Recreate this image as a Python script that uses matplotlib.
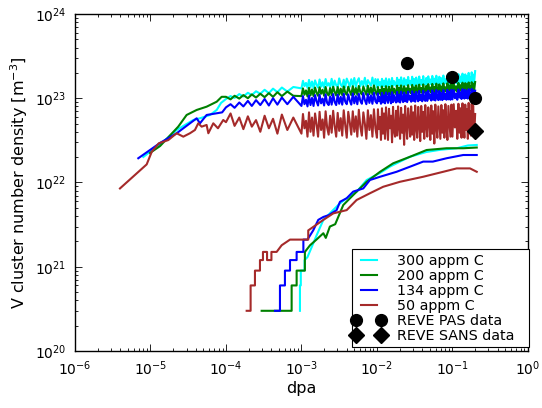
import numpy as np
import matplotlib
matplotlib.use("Agg")
import matplotlib.pyplot as plt
from matplotlib.legend_handler import HandlerLine2D

# ---------------- data ----------------
# early (smooth) part of the high-density curves
cyan_early_x = [8.03e-6, 1.56e-5, 2.22e-5, 3.69e-5, 4.66e-5, 6.14e-5, 7.54e-5, 8.6e-5]
cyan_early_y = [2.01e22, 3.19e22, 4.2e22, 5.52e22, 5.83e22, 6.33e22, 7.26e22, 8.8e22]
green_early_x = [9.84e-6, 1.34e-5, 2.33e-5, 3.01e-5, 4.09e-5, 5.54e-5, 7.54e-5, 8.77e-5]
green_early_y = [2.24e22, 2.71e22, 4.6e22, 6.33e22, 7.26e22, 7.94e22, 9.1e22, 10.4e22]
blue_early_x = [6.89e-6, 1.34e-5, 2.22e-5, 3.33e-5, 4.09e-5, 4.52e-5, 5.54e-5, 7.54e-5, 8.9e-5]
blue_early_y = [1.94e22, 2.95e22, 3.84e22, 5.04e22, 5.78e22, 5.04e22, 6.33e22, 6.63e22, 6.8e22]
brown_early_x = [3.94e-6, 8.9e-6, 1.04e-5, 1.29e-5, 1.72e-5, 2.22e-5, 2.72e-5, 3.33e-5,
                 3.88e-5, 4.29e-5, 4.76e-5, 5.54e-5, 5.84e-5, 6.79e-5, 7.83e-5, 9.2e-5]
brown_early_y = [8.5e21, 1.64e22, 2.32e22, 2.92e22, 3.19e22, 3.84e22, 3.5e22, 3.84e22,
                 4.2e22, 5.04e22, 4.6e22, 4.82e22, 3.84e22, 5.04e22, 4.4e22, 5.52e22]

# shared dpa output points of the noisy part, four stretches
dpa_a_e4 = [1.0, 1.15, 1.3, 1.5, 1.7, 1.95, 2.2, 2.5, 2.85, 3.25,
            3.7, 4.2, 4.8, 5.5, 6.5, 7.8]                                   # x 1e-4
dpa_b_e3 = [1.000, 1.047, 1.096, 1.148, 1.202, 1.259, 1.318, 1.380, 1.445, 1.514,
            1.585, 1.660, 1.738, 1.820, 1.905, 1.995, 2.089, 2.188, 2.291, 2.399,
            2.512, 2.630, 2.754, 2.884, 3.020, 3.162, 3.311, 3.467, 3.631, 3.802,
            3.981, 4.169, 4.365, 4.571, 4.786, 5.012, 5.248, 5.495, 5.754, 6.026,
            6.310, 6.607, 6.918, 7.244, 7.586, 7.943, 8.318, 8.710, 9.120, 9.550]  # x 1e-3
dpa_c_e2 = [1.000, 1.031, 1.063, 1.096, 1.131, 1.166, 1.202, 1.240, 1.279, 1.318,
            1.359, 1.402, 1.445, 1.490, 1.537, 1.585, 1.634, 1.685, 1.738, 1.792,
            1.848, 1.905, 1.965, 2.026, 2.089, 2.154, 2.221, 2.291, 2.362, 2.436,
            2.512, 2.590, 2.671, 2.754, 2.840, 2.929, 3.020, 3.114, 3.211, 3.311,
            3.415, 3.521, 3.631, 3.744, 3.861, 3.981, 4.105, 4.233, 4.365, 4.501,
            4.642, 4.786, 4.936, 5.090, 5.248, 5.412, 5.581, 5.754, 5.934, 6.119,
            6.310, 6.506, 6.709, 6.918, 7.134, 7.356, 7.586, 7.822, 8.066, 8.318,
            8.577, 8.845, 9.120, 9.405, 9.698]                                 # x 1e-2
dpa_d = [0.100, 0.104, 0.108, 0.112, 0.116, 0.120, 0.124, 0.128, 0.132, 0.136,
         0.140, 0.144, 0.148, 0.152, 0.156, 0.160, 0.164, 0.168, 0.172, 0.176,
         0.180, 0.184, 0.188, 0.194, 0.200]

# noisy densities, in units of 1e22 m^-3 (stretches a, b, c, d)
cyan_a = [9.8, 10.6, 10.1, 11.2, 10.5, 11.6, 10.9, 12.1, 11.3, 12.6, 11.5, 13.0, 11.8, 13.4, 12.0, 13.6]
cyan_b = [13.1, 16.1, 13.9, 15.2, 13.3, 16.5, 13.5, 15.8, 13.2, 16.3,
          14.4, 13.4, 16.7, 13.7, 15.5, 13.3, 16.9, 14.1, 15.1, 13.5,
          17.0, 13.4, 16.2, 14.3, 13.6, 17.2, 14.5, 13.8, 16.6, 13.5,
          17.1, 15.4, 13.7, 16.8, 14.0, 17.4, 13.6, 15.9, 17.3, 13.9,
          16.0, 14.2, 17.5, 13.8, 16.4, 15.1, 14.1, 17.6, 14.0, 16.9]
cyan_c = [13.6, 16.8, 14.2, 15.5, 13.7, 17.0, 14.0, 16.2, 13.8, 17.2,
          14.5, 13.9, 16.9, 15.0, 13.8, 17.4, 14.1, 16.0, 14.6, 13.9,
          17.5, 14.3, 16.6, 14.0, 17.7, 15.2, 14.1, 17.3, 14.4, 16.4,
          14.2, 17.9, 14.8, 16.1, 14.3, 18.0, 14.5, 16.9, 14.2, 17.6,
          15.4, 14.4, 18.1, 14.7, 16.5, 14.3, 18.3, 15.0, 14.6, 17.4,
          14.5, 18.2, 15.3, 16.7, 14.6, 18.4, 14.8, 17.1, 14.7, 18.5,
          15.6, 14.8, 18.0, 14.9, 17.3, 14.7, 18.6, 15.2, 16.8, 14.9,
          18.7, 15.0, 17.5, 14.8, 18.8]
cyan_d = [15.0, 19.0, 15.3, 17.6, 14.9, 19.3, 15.5, 18.1, 15.1, 19.6,
          16.0, 15.2, 19.2, 15.6, 18.4, 15.3, 20.0, 15.8, 17.9, 15.4,
          20.3, 15.7, 19.1, 15.5, 21.0]

green_a = [10.4, 9.7, 10.7, 9.9, 10.9, 10.0, 11.1, 10.2, 11.3, 10.3, 11.5, 10.4, 11.8, 10.6, 12.0, 10.7]
green_b = [10.6, 13.1, 11.0, 12.4, 10.5, 13.3, 10.8, 12.7, 10.6, 13.4,
           11.6, 10.7, 13.5, 11.3, 12.6, 10.7, 13.6, 11.4, 10.8, 13.2,
           10.9, 13.7, 11.9, 10.8, 13.6, 11.0, 13.0, 10.9, 13.8, 11.7,
           11.0, 13.7, 12.1, 10.9, 13.9, 11.1, 13.2, 11.0, 14.0, 11.8,
           11.1, 13.8, 12.2, 11.0, 14.1, 11.2, 13.4, 11.1, 14.2, 11.9]
green_c = [11.0, 13.6, 11.4, 12.5, 10.9, 13.8, 11.2, 12.9, 11.0, 13.9,
           11.7, 11.1, 13.7, 12.0, 11.0, 14.0, 11.3, 13.0, 11.8, 11.2,
           14.1, 11.4, 13.3, 11.2, 14.2, 12.1, 11.3, 13.9, 11.5, 13.1,
           11.3, 14.3, 11.9, 12.8, 11.4, 14.4, 11.6, 13.5, 11.4, 14.2,
           12.3, 11.5, 14.5, 11.8, 13.2, 11.5, 14.6, 12.0, 11.6, 14.0,
           11.6, 14.7, 12.2, 13.4, 11.7, 14.8, 11.9, 13.7, 11.7, 14.9,
           12.5, 11.8, 14.6, 11.9, 13.8, 11.8, 15.0, 12.1, 13.5, 11.9,
           15.1, 12.0, 14.2, 11.9, 15.2]
green_d = [12.0, 15.0, 12.3, 13.9, 11.9, 15.2, 12.5, 14.3, 12.1, 15.3,
           12.8, 12.2, 15.1, 12.4, 14.6, 12.2, 15.4, 12.7, 14.0, 12.3,
           15.5, 12.6, 14.9, 12.4, 15.6]

blue_a = [7.8, 8.5, 7.7, 8.9, 8.0, 9.3, 8.1, 9.5, 8.3, 9.8, 8.2, 10.0, 8.4, 10.2, 8.5, 10.4]
blue_b = [8.1, 10.6, 8.5, 9.6, 8.0, 10.8, 8.3, 10.1, 8.1, 10.9,
          9.2, 8.2, 11.0, 8.7, 9.9, 8.2, 11.1, 8.8, 8.3, 10.5,
          8.4, 11.2, 9.0, 8.3, 11.0, 8.6, 10.4, 8.4, 11.3, 9.1,
          8.5, 11.1, 9.4, 8.4, 11.4, 8.7, 10.6, 8.5, 11.3, 9.3,
          8.6, 11.5, 9.5, 8.5, 11.2, 8.8, 10.8, 8.6, 11.6, 9.2]
blue_c = [8.7, 11.4, 9.2, 10.3, 8.6, 11.6, 8.9, 10.8, 8.7, 11.7,
          9.6, 8.8, 11.5, 9.9, 8.7, 11.8, 9.0, 10.9, 9.5, 8.9,
          11.9, 9.1, 11.0, 8.9, 12.0, 9.8, 9.0, 11.7, 9.2, 10.9,
          9.0, 12.0, 9.6, 10.6, 9.1, 12.1, 9.3, 11.2, 9.1, 11.9,
          10.0, 9.2, 12.2, 9.5, 11.0, 9.2, 12.3, 9.7, 9.3, 11.8,
          9.3, 12.3, 9.9, 11.1, 9.4, 12.4, 9.6, 11.5, 9.4, 12.5,
          10.2, 9.5, 12.2, 9.6, 11.5, 9.5, 12.5, 9.8, 11.3, 9.6,
          12.6, 9.7, 11.9, 9.6, 12.6]
blue_d = [9.7, 12.5, 10.0, 11.4, 9.6, 12.7, 10.2, 11.8, 9.8, 12.8,
          10.5, 9.9, 12.6, 10.1, 12.0, 9.9, 12.8, 10.4, 11.6, 10.0,
          12.9, 10.3, 12.4, 10.1, 12.3]

brown_a = [5.2, 6.6, 4.7, 5.9, 4.3, 6.1, 4.6, 5.5, 4.0, 6.2, 4.4, 5.7, 3.8, 6.4, 4.2, 5.9]
brown_b = [3.8, 6.5, 4.4, 5.4, 3.5, 6.8, 4.0, 5.9, 3.6, 6.6,
           4.9, 3.5, 6.9, 4.2, 5.6, 3.4, 7.0, 4.5, 3.7, 6.2,
           3.9, 7.1, 4.7, 3.5, 6.7, 4.1, 5.8, 3.6, 7.2, 4.8,
           3.4, 6.9, 5.2, 3.7, 7.0, 4.0, 6.1, 3.5, 7.3, 4.6,
           3.6, 6.8, 5.0, 3.3, 7.2, 4.2, 6.3, 3.5, 7.4, 4.4]
brown_c = [3.4, 7.4, 4.3, 6.0, 3.2, 7.6, 3.8, 6.6, 3.3, 7.8,
           5.0, 3.2, 7.5, 4.4, 6.2, 3.0, 7.9, 4.1, 3.5, 7.1,
           3.6, 8.0, 4.6, 3.3, 7.7, 3.9, 6.4, 2.8, 8.1, 4.8,
           3.3, 7.6, 5.4, 3.5, 8.0, 3.7, 6.8, 3.2, 8.2, 4.5,
           3.4, 7.9, 5.1, 3.1, 8.1, 4.0, 6.9, 3.3, 8.3, 4.7,
           3.5, 7.8, 5.5, 3.2, 8.2, 3.8, 7.0, 2.9, 8.4, 4.6,
           3.4, 8.0, 5.2, 3.3, 8.3, 3.9, 7.2, 3.4, 8.5, 4.9,
           3.2, 8.1, 5.3, 3.5, 8.4]
brown_d = [3.5, 8.5, 4.5, 7.1, 3.3, 8.6, 3.9, 7.6, 3.4, 8.7,
           5.0, 3.4, 8.4, 4.2, 7.4, 3.3, 8.8, 4.4, 7.0, 3.6,
           8.6, 3.8, 8.2, 3.5, 6.5]

# low-density curves
cyan_lo_x = [9.55e-4, 9.55e-4, 9.8e-4, 9.8e-4, 1.1e-3, 1.1e-3, 1.2e-3, 1.4e-3, 1.6e-3,
             1.95e-3, 2.5e-3, 3.2e-3, 3.97e-3, 5.4e-3, 7.31e-3, 1.1e-2, 1.5e-2, 2.02e-2,
             2.74e-2, 4.5e-2, 7.0e-2, 0.114, 0.16, 0.21]
cyan_lo_y = [3e20, 6e20, 6e20, 9e20, 9e20, 1.2e21, 1.3e21, 1.8e21, 2.4e21,
             3.6e21, 4.5e21, 5.6e21, 6.5e21, 7.8e21, 1.07e22, 1.3e22, 1.55e22, 1.77e22,
             2.02e22, 2.3e22, 2.45e22, 2.55e22, 2.75e22, 2.79e22]
green_lo_x = [2.97e-4, 7.41e-4, 7.41e-4, 8.63e-4, 8.63e-4, 1.11e-3, 1.11e-3, 1.3e-3, 1.58e-3,
              1.95e-3, 2.1e-3, 2.38e-3, 2.8e-3, 3.58e-3, 4.85e-3, 7.31e-3, 1.1e-2, 1.64e-2,
              2.74e-2, 4.55e-2, 8.37e-2, 0.139, 0.21]
green_lo_y = [3e20, 3e20, 6e20, 6e20, 9e20, 9e20, 1.5e21, 1.8e21, 2.1e21,
              2.5e21, 2.2e21, 3.0e21, 3.2e21, 5.4e21, 7.1e21, 1.02e22, 1.34e22, 1.69e22,
              2.02e22, 2.43e22, 2.55e22, 2.55e22, 2.6e22]
blue_lo_x = [4.46e-4, 5.19e-4, 5.19e-4, 6.04e-4, 6.04e-4, 7.05e-4, 7.05e-4, 8.63e-4, 8.63e-4,
             1.06e-3, 1.06e-3, 1.2e-3, 1.43e-3, 1.67e-3, 1.95e-3, 2.3e-3, 2.92e-3, 3.24e-3,
             3.97e-3, 4.85e-3, 6.59e-3, 8.07e-3, 1.1e-2, 1.82e-2, 2.74e-2, 4.1e-2, 5.5e-2,
             8.37e-2, 0.139, 0.21]
blue_lo_y = [3e20, 3e20, 6e20, 6e20, 9e20, 9e20, 1.2e21, 1.2e21, 1.5e21,
             1.5e21, 2.1e21, 2.1e21, 2.7e21, 3.6e21, 3.9e21, 4.1e21, 4.7e21, 5.9e21,
             6.5e21, 7.8e21, 8.5e21, 1.07e22, 1.17e22, 1.34e22, 1.54e22, 1.77e22, 1.77e22,
             1.94e22, 2.12e22, 2.12e22]
brown_lo_x = [1.88e-4, 2.12e-4, 2.12e-4, 2.42e-4, 2.42e-4, 2.82e-4, 2.82e-4, 3.09e-4, 3.09e-4,
              3.5e-4, 3.5e-4, 4.0e-4, 4.0e-4, 4.69e-4, 5.47e-4, 7.05e-4, 1.23e-3, 1.23e-3,
              1.95e-3, 2.64e-3, 3.97e-3, 5.38e-3, 8.07e-3, 1.21e-2, 2.02e-2, 4.1e-2, 7.55e-2,
              0.114, 0.171, 0.21]
brown_lo_y = [3e20, 3e20, 6e20, 6e20, 9e20, 9e20, 1.2e21, 1.2e21, 1.5e21,
              1.5e21, 1.2e21, 1.2e21, 1.5e21, 1.5e21, 1.8e21, 2.1e21, 2.1e21, 2.7e21,
              3.6e21, 4.3e21, 4.7e21, 6.2e21, 7.45e21, 8.9e21, 1.02e22, 1.17e22, 1.34e22,
              1.47e22, 1.47e22, 1.34e22]

pas_dpa = [0.025, 0.1, 0.2]
pas_dens = [2.6e23, 1.8e23, 1.0e23]
sans_dpa = [0.2]
sans_dens = [4.1e22]

labels = ["300 appm C", "200 appm C", "134 appm C", "50 appm C"]
colors = ["cyan", "green", "blue", "brown"]

# ---------------- plot ----------------
fig = plt.figure(figsize=(5.42, 4.08), dpi=100)
ax = fig.add_axes([0.1384, 0.1397, 0.8356, 0.826])

dpa_hi = (list(np.array(dpa_a_e4) * 1e-4) + list(np.array(dpa_b_e3) * 1e-3)
          + list(np.array(dpa_c_e2) * 1e-2) + list(dpa_d))
series = [
    (cyan_early_x, cyan_early_y, [cyan_a, cyan_b, cyan_c, cyan_d], cyan_lo_x, cyan_lo_y),
    (green_early_x, green_early_y, [green_a, green_b, green_c, green_d], green_lo_x, green_lo_y),
    (blue_early_x, blue_early_y, [blue_a, blue_b, blue_c, blue_d], blue_lo_x, blue_lo_y),
    (brown_early_x, brown_early_y, [brown_a, brown_b, brown_c, brown_d], brown_lo_x, brown_lo_y),
]
for (ex, ey, parts, lx, ly), c, lab in zip(series, colors, labels):
    hy = []
    for p in parts:
        hy += list(p)
    n = min(len(hy), len(dpa_hi))
    x = list(ex) + dpa_hi[:n]
    y = list(ey) + list(np.array(hy[:n]) * 1e22)
    ax.plot(x, y, color=c, lw=1.5, label=lab)
    ax.plot(lx, ly, color=c, lw=1.5)

pas_line, = ax.plot(pas_dpa, pas_dens, 'ko', ms=8.5, label="REVE PAS data")
sans_line, = ax.plot(sans_dpa, sans_dens, 'kD', ms=8.5, label="REVE SANS data")

ax.set_xscale('log')
ax.set_yscale('log')
ax.set_xlim(1e-6, 1)
ax.set_ylim(1e20, 1e24)
ax.set_xlabel("dpa", fontsize=11.5, labelpad=2)
ax.set_ylabel(r"V cluster number density [m$^{-3}$]", fontsize=11.5, labelpad=4)
ax.tick_params(which='both', direction='in', top=True, right=True, labelsize=10)
ax.tick_params(which='major', length=5, width=0.6, pad=6)
ax.tick_params(which='minor', length=2.5, width=0.6)
for s in ax.spines.values():
    s.set_linewidth(1.0)

leg = ax.legend(loc='lower left', bbox_to_anchor=(0.6115, 0.012, 0.3907, 0.2),
                mode='expand', numpoints=2, fontsize=10.3,
                handlelength=1.75, labelspacing=0.07, borderaxespad=0.0, fancybox=False,
                framealpha=1, handletextpad=1.1, borderpad=0.3,
                handler_map={pas_line: HandlerLine2D(marker_pad=0),
                             sans_line: HandlerLine2D(marker_pad=0)})
leg.get_frame().set_edgecolor('black')
leg.get_frame().set_linewidth(0.8)

fig.savefig("out.png", dpi=100)
